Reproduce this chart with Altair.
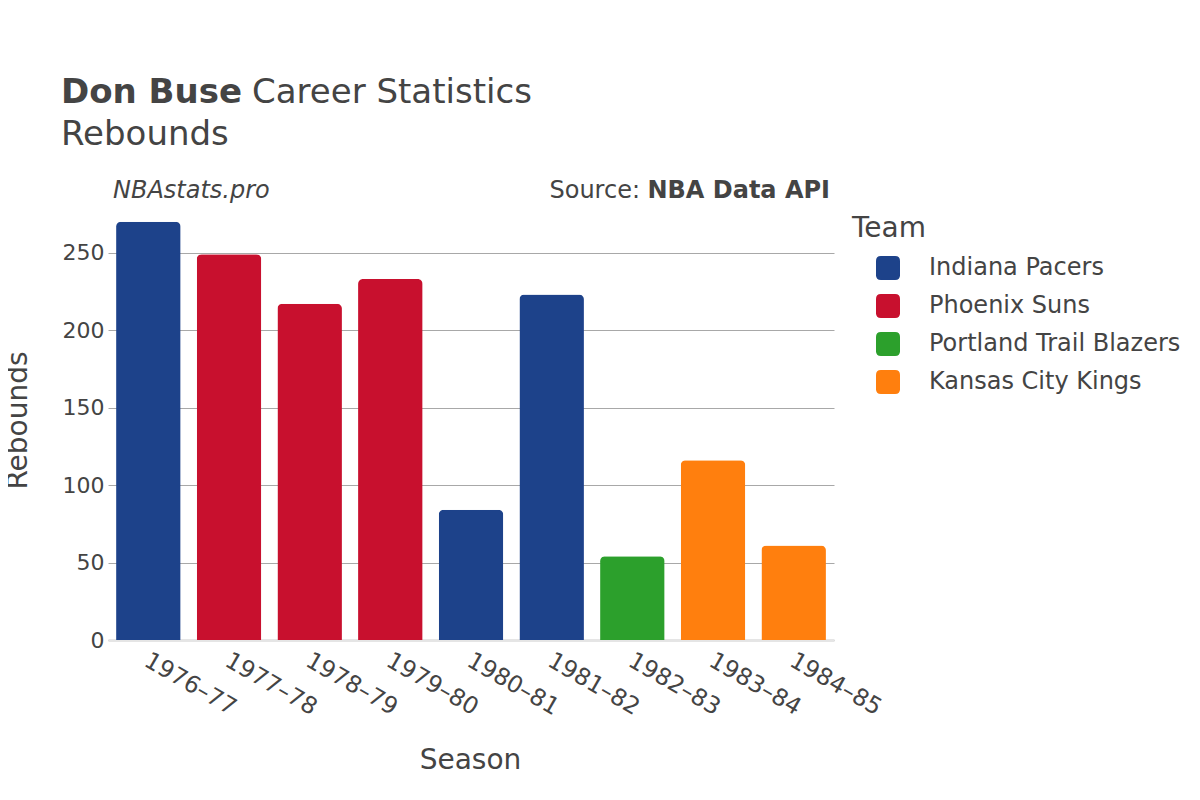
import altair as alt
import pandas as pd

seasons = ["1976–77", "1977–78", "1978–79", "1979–80", "1980–81",
           "1981–82", "1982–83", "1983–84", "1984–85"]
rebounds = [270, 249, 217, 233, 84, 223, 54, 116, 61]
teams = ["Indiana Pacers", "Phoenix Suns", "Phoenix Suns", "Phoenix Suns",
         "Indiana Pacers", "Indiana Pacers", "Portland Trail Blazers",
         "Kansas City Kings", "Kansas City Kings"]
team_order = ["Indiana Pacers", "Phoenix Suns", "Portland Trail Blazers", "Kansas City Kings"]
team_colors = ["#1d428a", "#c8102e", "#2ca02c", "#ff7f0e"]
y_ticks = [0, 50, 100, 150, 200, 250]

df = pd.DataFrame({"Season": seasons, "Rebounds": rebounds, "Team": teams})

FONT = "DejaVu Sans"
TXT = "#444444"
W, H = 726, 440

rounded_sq = ("M -0.6 -1 L 0.6 -1 Q 1 -1 1 -0.6 L 1 0.6 Q 1 1 0.6 1 "
              "L -0.6 1 Q -1 1 -1 0.6 L -1 -0.6 Q -1 -1 -0.6 -1 Z")

bars = alt.Chart(df).mark_bar(
    cornerRadiusTopLeft=5, cornerRadiusTopRight=5
).encode(
    x=alt.X("Season:N", sort=seasons, scale=alt.Scale(paddingInner=0.2, paddingOuter=0.1),
            axis=alt.Axis(title="Season", labelAngle=30, labelAlign="left",
                          labelBaseline="top", labelFontSize=23.5, labelColor=TXT,
                          labelPadding=8, labelOffset=4, ticks=False, domain=True,
                          domainColor="#e5e5e5", domainWidth=3,
                          titleFontSize=28, titleFontWeight="normal", titleColor=TXT,
                          titleX=W / 2 - 1, titleY=120, titleAnchor="middle",
                          titleBaseline="middle", labelFont=FONT, titleFont=FONT)),
    y=alt.Y("Rebounds:Q", scale=alt.Scale(domain=[0, 284], nice=False),
            axis=alt.Axis(title="Rebounds", values=y_ticks, labelFontSize=22,
                          labelColor=TXT, labelPadding=4, ticks=False, domain=False,
                          grid=True, gridColor="#a8a8a8", gridWidth=1,
                          titleFontSize=28, titleFontWeight="normal", titleColor=TXT,
                          titleAngle=-90, titleX=-90, titleY=H / 2,
                          titleAlign="center", titleBaseline="middle",
                          labelFont=FONT, titleFont=FONT)),
    color=alt.Color("Team:N", scale=alt.Scale(domain=team_order, range=team_colors),
                    legend=alt.Legend(title=None, orient="none", legendX=768, legendY=56,
                                      labelFontSize=24, labelColor=TXT, labelFont=FONT,
                                      labelLimit=400,
                                      symbolType=rounded_sq, symbolSize=576,
                                      symbolStrokeWidth=0, symbolOpacity=1,
                                      labelOffset=29, rowPadding=14, offset=0,
                                      padding=0)),
)

def txt(s, x, y, size, weight="normal", style="normal", align="left"):
    return alt.Chart(pd.DataFrame({"t": [s]})).mark_text(
        font=FONT, fontSize=size, fontWeight=weight, fontStyle=style,
        align=align, baseline="alphabetic", color=TXT
    ).encode(text="t:N", x=alt.value(x), y=alt.value(y))

title1 = txt("Don Buse", -47, -97, 34, weight="bold")
title2 = txt("Career Statistics", 144, -97, 34)
title3 = txt("Rebounds", -47, -55, 34)
site = txt("NBAstats.pro", 5, -2, 24, style="italic")
src1 = txt("Source:", 532, -2, 24, align="right")
src2 = txt("NBA Data API", 722, -2, 24, weight="bold", align="right")
legend_title = txt("Team", 744, 37, 28)

chart = alt.layer(bars, title1, title2, title3, site, src1, src2, legend_title).properties(
    width=W, height=H,
    autosize=alt.AutoSizeParams(type="none"),
    padding={"left": 100, "top": 192, "right": 358, "bottom": 152},
    background="white",
).configure_view(stroke=None)

chart.save("out.html", embed_options={"renderer": "svg", "actions": False})
